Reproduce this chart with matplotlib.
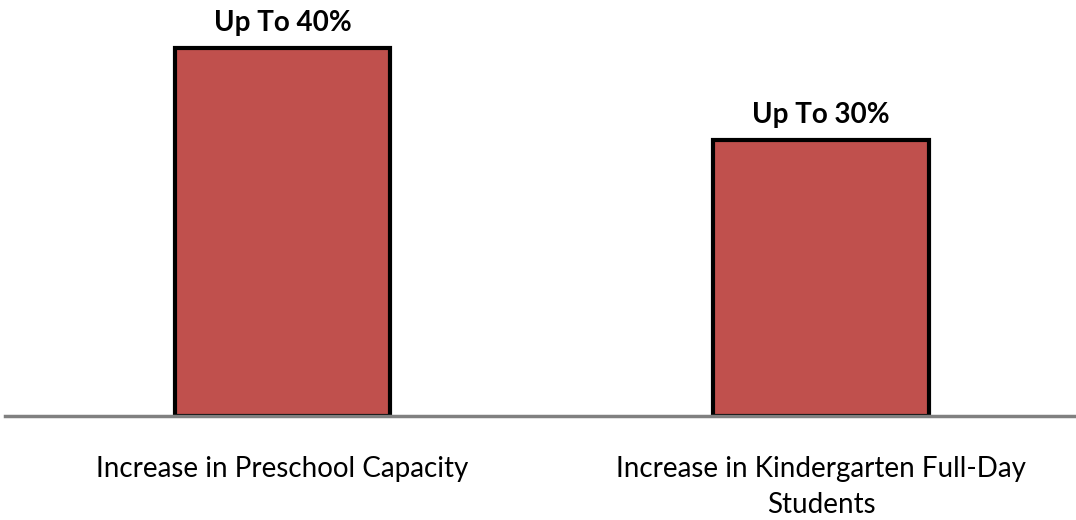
import matplotlib.pyplot as plt

plt.rcParams['font.family'] = ['Lato', 'DejaVu Sans']

categories = ['Increase in Preschool Capacity', 'Increase in Kindergarten Full-Day\nStudents']
values = [40, 30]
value_labels = ['Up To 40%', 'Up To 30%']

fig = plt.figure(figsize=(10.76, 5.2), dpi=100)
ax = fig.add_axes([5 / 1076, 104 / 520, 1071 / 1076, 416 / 520])

x = range(len(categories))
bars = ax.bar(x, values, width=0.4, color='#C0504D', edgecolor='black', linewidth=3, zorder=2)

for bar, lab in zip(bars, value_labels):
    ax.annotate(lab, (bar.get_x() + bar.get_width() / 2, bar.get_height()),
                xytext=(0, 18), textcoords='offset points', ha='center', va='center',
                fontsize=20, fontweight='bold')

ax.set_xlim(-0.515, 1.4735)
ax.set_ylim(0, 45.2)
ax.set_xticks(list(x))
ax.set_xticklabels(categories, fontsize=20, linespacing=1.48, va='top')
ax.tick_params(axis='x', length=0, pad=29)
ax.set_yticks([])

for side in ['top', 'right', 'left']:
    ax.spines[side].set_visible(False)
ax.spines['bottom'].set_color('#808080')
ax.spines['bottom'].set_linewidth(2.5)
ax.spines['bottom'].set_zorder(3)

fig.savefig('out.png', dpi=100)
